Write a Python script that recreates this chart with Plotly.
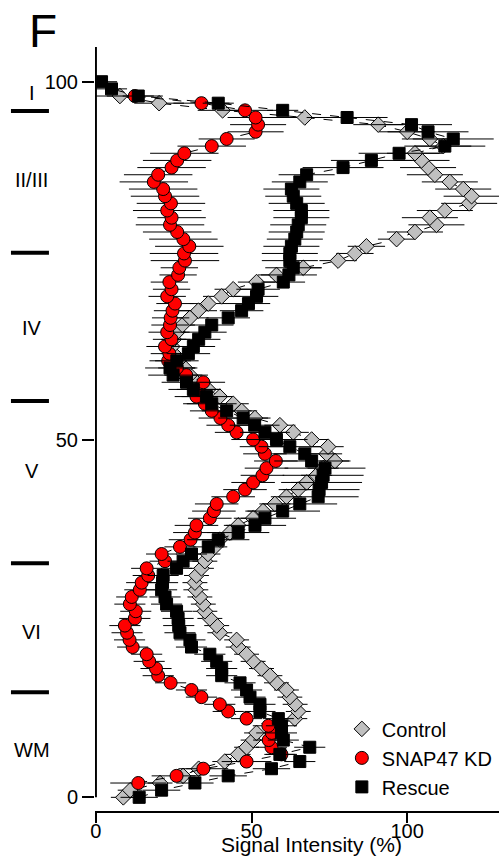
import plotly.graph_objects as go

# ---------------- data ----------------
depth_all = list(range(0, 101))

control_y = depth_all[0:99]
control_x = [8.8, 11, 20.6, 28, 33, 41.4, 45.7, 48.4, 50.5, 51.6,
             58, 63.9, 65, 64, 62.3, 61.2, 58, 55.9, 53.2, 50.5,
             48.4, 45.7, 45.2, 39.8, 38.8, 36.6, 35, 34.5, 33.4, 32.1,
             31.8, 32.3, 33.9, 35, 36, 38.2, 39.8, 43, 45.7, 50.5,
             53.7, 57.5, 61.2, 65, 67.7, 70.9, 73, 76.8, 74.1, 74.6,
             69.3, 63.4, 59.1, 51.1, 46.8, 44.1, 39.8, 36.1, 32.3, 30.2,
             28.6, 26.5, 25, 24.5, 25, 26.1, 27.8, 30.2, 32.9, 36.1,
             40.4, 44.1, 51.6, 58, 66.6, 77.8, 83.2, 86.9, 96.6, 102.5,
             109.4, 107.3, 112.1, 119.9, 120.7, 118, 113.7, 108.9, 106.7, 104.6,
             102.5, 111.6, 107.3, 100, 90.7, 67.1, 40.7, 20.3, 7.7]
control_err = [4, 4, 4, 4, 4, 4, 4, 4, 4, 4,
               4, 4, 4, 4, 4, 4, 4, 4, 4, 4,
               4, 4, 4, 4, 4, 4, 4, 4, 4, 4,
               4, 4, 4, 4, 4, 4, 4, 4, 4, 4,
               5, 5, 5, 5, 5, 5, 5, 5, 5, 5,
               5, 5, 5, 5, 5, 5, 4, 4, 4, 4,
               4, 4, 4, 4, 4, 4, 4, 6, 6, 6,
               6, 6, 6, 6, 6, 6, 6, 6, 6, 9,
               9, 9, 9, 9, 9, 9, 9, 9, 9, 9,
               9, 9, 9, 9, 8, 8, 8, 8, 8]

kd_y = depth_all[2:99]
kd_x = [13.6, 25.9, 34.5, 48.4, 59.6, 56.4, 55.5, 56.5,
        55.4, 48.4, 42.5, 39.8, 33.9, 30.7, 24, 20, 19.3, 17.1,
        16.3, 11.8, 10.8, 10, 9.3, 12.5, 12.8, 10.9, 11.5, 14.1,
        14.7, 16.8, 16.3, 22.2, 21.1, 27, 30.4, 31.8, 32.3, 36.6,
        37.9, 38.8, 44.1, 47.9, 50.5, 53.5, 54.8, 57.8, 54.3, 53.2,
        50.5, 45.2, 42.5, 40, 37.2, 35, 32.3, 33, 34.5, 29,
        26, 23.2, 23.6, 22.2, 24.3, 22.9, 23.8, 24, 24.6, 25.4,
        22.9, 24.3, 23.6, 26.4, 26.8, 28.6, 28.3, 30, 28.1, 26.1,
        23.8, 24.3, 22.9, 24.1, 22.2, 21.6, 18.6, 20, 24.3, 26.1,
        28.4, 37.2, 42, 51.3, 52.1, 51.3, 47.9, 33.9, 12.5]
kd_err = [9, 8, 8, 8, 5, 5, 5, 5,
          5, 5, 5, 5, 5, 5, 5, 5, 5, 5,
          5, 5, 5, 5, 5, 5, 5, 5, 5, 5,
          5, 5, 5, 5, 5, 5, 7, 7, 7, 7,
          7, 7, 7, 7, 7, 7, 7, 7, 7, 7,
          7, 7, 7, 7, 7, 7, 7, 7, 7, 7,
          6, 6, 6, 6, 6, 6, 6, 6, 6, 6,
          6, 6, 6, 6, 6, 11, 11, 11, 11, 11,
          11, 11, 11, 11, 11, 11, 11, 11, 11, 11,
          11, 11, 9, 9, 9, 9, 9, 9, 9]

rescue_y = depth_all[0:101]
rescue_x = [13.9, 21.1, 31.8, 42.5, 56.4, 65.5, 59.1, 68.7, 60.2, 59.6,
            59.6, 58.6, 52.7, 52.7, 49.5, 48.4, 46.3, 40.4, 40.4, 38.8,
            36.6, 30.7, 30.2, 27, 26.6, 26.4, 25.9, 22.7, 22.2, 21.1,
            21.4, 21.6, 25.9, 28, 30.7, 36.1, 39.3, 45.7, 51.1, 54.3,
            60, 65.5, 71.4, 71.7, 72.5, 73, 73.6, 69.3, 67.1, 62.3,
            58, 54.3, 51, 47.3, 42, 37.2, 35.5, 31.3, 29.1, 24.8,
            23.8, 26, 29.7, 31.3, 33, 35, 37.2, 42.5, 46.8, 49,
            51.6, 52.1, 60.2, 62, 63.4, 62.3, 62.3, 62.8, 63.9, 64.5,
            65, 66, 66, 64.5, 63.4, 62.8, 65.5, 67.7, 79.4, 88.5,
            97.4, 112.1, 114.8, 106.7, 101.4, 80.7, 60, 39.3, 13.6, 5,
            1.8]
rescue_err = [6, 6, 6, 6, 6, 5, 5, 5, 5, 5,
              5, 5, 5, 5, 5, 5, 5, 5, 5, 5,
              5, 5, 5, 5, 5, 5, 5, 5, 5, 5,
              5, 5, 5, 5, 5, 5, 10, 10, 10, 10,
              12, 12, 13, 13, 13, 13, 13, 12, 10, 10,
              10, 8, 8, 8, 8, 8, 8, 8, 8, 8,
              8, 7, 7, 7, 7, 7, 7, 7, 7, 7,
              7, 7, 7, 9, 9, 9, 9, 9, 9, 9,
              9, 9, 9, 9, 9, 9, 9, 9, 13, 13,
              13, 13, 13, 13, 13, 13, 5, 5, 5, 5,
              5]

layer_names = ["I", "II/III", "IV", "V", "VI", "WM"]
layer_label_y = [98.4, 86.2, 65.6, 45.6, 23.1, 6.6]
layer_bounds = [95.9, 76.1, 55.4, 32.7, 14.7]

x_ticks = [0, 50, 100]
y_ticks = [0, 50, 100]

FONT = "Liberation Sans, Arial, sans-serif"

# ---------------- figure ----------------
fig = go.Figure()

series = [
    ("Control", control_x, control_y, control_err, "diamond", "#C0C0C0", 12),
    ("SNAP47 KD", kd_x, kd_y, kd_err, "circle", "#FF0000", 13),
    ("Rescue", rescue_x, rescue_y, rescue_err, "square", "#000000", 12),
]

for name, xs, ys, es, sym, col, sz in series:
    fig.add_trace(go.Scatter(
        x=xs, y=ys, mode="lines", showlegend=False, hoverinfo="skip",
        line=dict(color="black", width=1, dash="dash"), legendgroup=name))
    fig.add_trace(go.Scatter(
        x=xs, y=ys, mode="markers", name=name, legendgroup=name,
        marker=dict(symbol=sym, size=sz, color=col,
                    line=dict(color="black", width=1)),
        error_x=dict(type="data", array=es, symmetric=True,
                     color="black", thickness=1, width=0)))

shapes = [dict(type="line", xref="x", yref="y", x0=0, x1=0, y0=0, y1=104.85,
               line=dict(color="black", width=2))]
for b in layer_bounds:
    shapes.append(dict(type="line", xref="paper", yref="y",
                       x0=-0.208, x1=-0.114, y0=b, y1=b,
                       line=dict(color="black", width=4)))

annotations = []
for nm, ly in zip(layer_names, layer_label_y):
    annotations.append(dict(text=nm, xref="paper", yref="y", x=-0.156, y=ly,
                            showarrow=False, xanchor="center", yanchor="middle",
                            font=dict(family=FONT, size=20, color="black")))
annotations.append(dict(text="F", xref="paper", yref="paper", x=-0.129, y=1.021,
                        showarrow=False, xanchor="center", yanchor="middle",
                        font=dict(family=FONT, size=46, color="black")))
annotations.append(dict(text="Signal Intensity (%)", xref="paper", yref="paper",
                        x=0.535, y=-0.0435, showarrow=False,
                        xanchor="center", yanchor="middle",
                        font=dict(family=FONT, size=21, color="black")))

fig.update_layout(
    width=499, height=864,
    margin=dict(l=95, r=0, t=47, b=53, autoexpand=False),
    paper_bgcolor="white", plot_bgcolor="white",
    font=dict(family=FONT, size=20, color="black"),
    shapes=shapes, annotations=annotations,
    legend=dict(x=0.611, y=0.133, xanchor="left", yanchor="top",
                bgcolor="rgba(0,0,0,0)", borderwidth=0,
                font=dict(family=FONT, size=20, color="black"),
                tracegroupgap=0, itemwidth=30),
    xaxis=dict(range=[-0.3, 129.5], tickvals=x_ticks, ticks="outside",
               ticklen=10, tickwidth=2, tickcolor="black",
               ticklabelstandoff=-9,
               showline=True, linewidth=2, linecolor="black",
               showgrid=False, zeroline=False,
               tickfont=dict(family=FONT, size=20, color="black")),
    yaxis=dict(range=[-1.91, 104.85], tickvals=y_ticks, ticks="outside",
               ticklen=12, tickwidth=2, tickcolor="black",
               showline=False, showgrid=False, zeroline=False,
               tickfont=dict(family=FONT, size=20, color="black")),
)

fig.write_html(
    "out.html",
    config={"displayModeBar": False},
    post_script="document.body.style.margin='0';document.body.style.padding='0';"
                "document.documentElement.style.overflow='hidden';"
                "document.body.style.overflow='hidden';")
